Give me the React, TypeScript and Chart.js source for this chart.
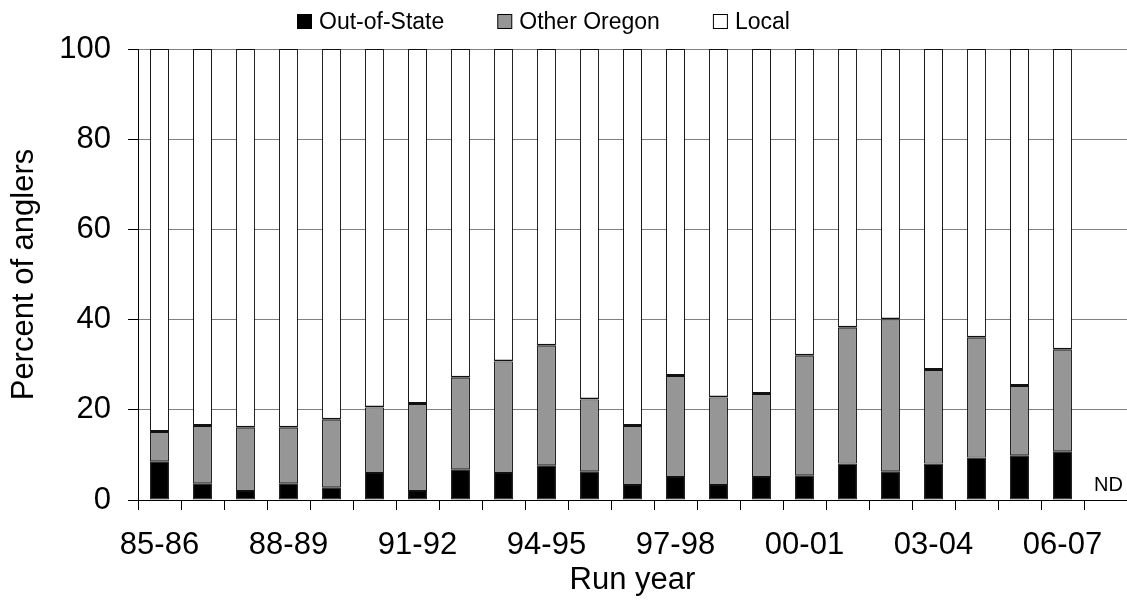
import React, { useEffect, useRef } from "react";
import { Chart, registerables } from "chart.js";

Chart.register(...registerables);

const runYears = [
  "85-86", "86-87", "87-88", "88-89", "89-90", "90-91", "91-92", "92-93",
  "93-94", "94-95", "95-96", "96-97", "97-98", "98-99", "99-00", "00-01",
  "01-02", "02-03", "03-04", "04-05", "05-06", "06-07", "07-08",
];

const outOfState = [
  8.6, 3.7, 2.0, 3.7, 2.8, 6.0, 2.0, 6.8, 6.0, 7.7, 6.4, 3.3, 5.1, 3.3, 5.1,
  5.5, 8.1, 6.4, 8.1, 9.4, 9.9, 10.8, null,
];

const otherOregon = [
  6.5, 12.7, 14.0, 12.3, 15.0, 14.5, 19.3, 20.3, 24.7, 26.5, 15.9, 13.1, 22.4,
  19.4, 18.4, 26.5, 30.1, 33.6, 20.7, 26.6, 15.4, 22.5, null,
];

const local = [
  84.9, 83.6, 84.0, 84.0, 82.2, 79.5, 78.7, 72.9, 69.3, 65.8, 77.7, 83.6, 72.5,
  77.3, 76.5, 68.0, 61.8, 60.0, 71.2, 64.0, 74.7, 66.7, null,
];

const notes = [
  "", "", "", "", "", "", "", "", "", "", "", "", "", "", "", "", "", "", "",
  "", "", "", "ND",
];

const seriesNames = ["Out-of-State", "Other Oregon", "Local"];
const seriesColors = ["#000000", "#969696", "#ffffff"];
const yTicks = [0, 20, 40, 60, 80, 100];
const labelEvery = 3;

const FONT = "'Liberation Sans', Arial, Helvetica, sans-serif";

export default function App() {
  const ref = useRef<HTMLCanvasElement>(null);

  useEffect(() => {
    if (!ref.current) return;

    const legendPlugin = {
      id: "customLegend",
      afterDraw(chart: any) {
        const ctx = chart.ctx;
        ctx.save();
        ctx.font = `23px ${FONT}`;
        ctx.textBaseline = "alphabetic";
        ctx.textAlign = "left";
        let x = 297;
        seriesNames.forEach((name, i) => {
          ctx.fillStyle = seriesColors[i];
          ctx.fillRect(x + 0.5, 14.5, 14, 14);
          ctx.strokeStyle = "#000";
          ctx.lineWidth = 1;
          ctx.strokeRect(x + 0.5, 14.5, 14, 14);
          ctx.fillStyle = "#000";
          ctx.fillText(name, x + 22, 29);
          x += 22 + ctx.measureText(name).width + 53;
        });
        ctx.restore();
      },
    };

    const notesPlugin = {
      id: "notes",
      afterDatasetsDraw(chart: any) {
        const ctx = chart.ctx;
        const xs = chart.scales.x;
        const ys = chart.scales.y;
        ctx.save();
        ctx.font = `20px ${FONT}`;
        ctx.fillStyle = "#000";
        ctx.textAlign = "center";
        ctx.textBaseline = "alphabetic";
        notes.forEach((n, i) => {
          if (!n) return;
          ctx.fillText(n, xs.getPixelForValue(i) + 3, ys.getPixelForValue(0) - 9);
        });
        ctx.restore();
      },
    };

    const seriesData = [outOfState, otherOregon, local];
    const borderWidths = [
      1,
      1,
      { top: 1, left: 1, right: 1, bottom: 2 },
    ];

    const chart = new Chart(ref.current, {
      type: "bar",
      data: {
        labels: runYears,
        datasets: seriesNames.map((name, i) => ({
          label: name,
          data: seriesData[i] as any,
          backgroundColor: seriesColors[i],
          borderColor: "#111111",
          borderWidth: borderWidths[i] as any,
          borderSkipped: false,
          inflateAmount: 0,
          barPercentage: 0.44,
          categoryPercentage: 1,
        })),
      },
      options: {
        responsive: false,
        animation: false,
        devicePixelRatio: 1,
        layout: { padding: { top: 49, left: 2, right: -2, bottom: 0 } },
        plugins: {
          legend: { display: false },
          tooltip: { enabled: false },
        },
        scales: {
          x: {
            stacked: true,
            offset: true,
            grid: {
              offset: true,
              drawOnChartArea: false,
              drawTicks: true,
              tickLength: 10,
              tickColor: "#000",
            },
            border: { color: "#000", width: 1 },
            ticks: {
              autoSkip: false,
              maxRotation: 0,
              minRotation: 0,
              padding: 17,
              color: "#000",
              font: { family: FONT, size: 31 },
              callback: (_v: any, i: number) =>
                i % labelEvery === 0 ? runYears[i] : "",
            },
            title: {
              display: true,
              text: "Run year",
              color: "#000",
              font: { family: FONT, size: 31 },
              padding: { top: 0, bottom: 8 },
            },
            afterFit: (s: any) => {
              s.height = 107;
            },
          },
          y: {
            stacked: true,
            min: yTicks[0],
            max: yTicks[yTicks.length - 1],
            afterBuildTicks: (s: any) => {
              s.ticks = yTicks.map((v) => ({ value: v }));
            },
            ticks: {
              padding: 17,
              color: "#000",
              font: { family: FONT, size: 31 },
            },
            grid: {
              color: (c: any) =>
                c.tick && c.tick.value === 0 ? "rgba(0,0,0,0)" : "#808080",
              tickColor: "#000",
              tickLength: 10,
            },
            border: { color: "#000", width: 1 },
            title: {
              display: true,
              text: "Percent of anglers",
              color: "#000",
              font: { family: FONT, size: 31 },
            },
            afterFit: (s: any) => {
              s.width = 136;
            },
          },
        },
      },
      plugins: [legendPlugin, notesPlugin],
    });

    return () => chart.destroy();
  }, []);

  return (
    <div
      style={{
        position: "fixed",
        left: 0,
        top: 0,
        width: 1127,
        height: 607,
        background: "#fff",
        overflow: "hidden",
      }}
    >
      <canvas
        ref={ref}
        width={1127}
        height={607}
        style={{ display: "block", width: 1127, height: 607 }}
      />
    </div>
  );
}
